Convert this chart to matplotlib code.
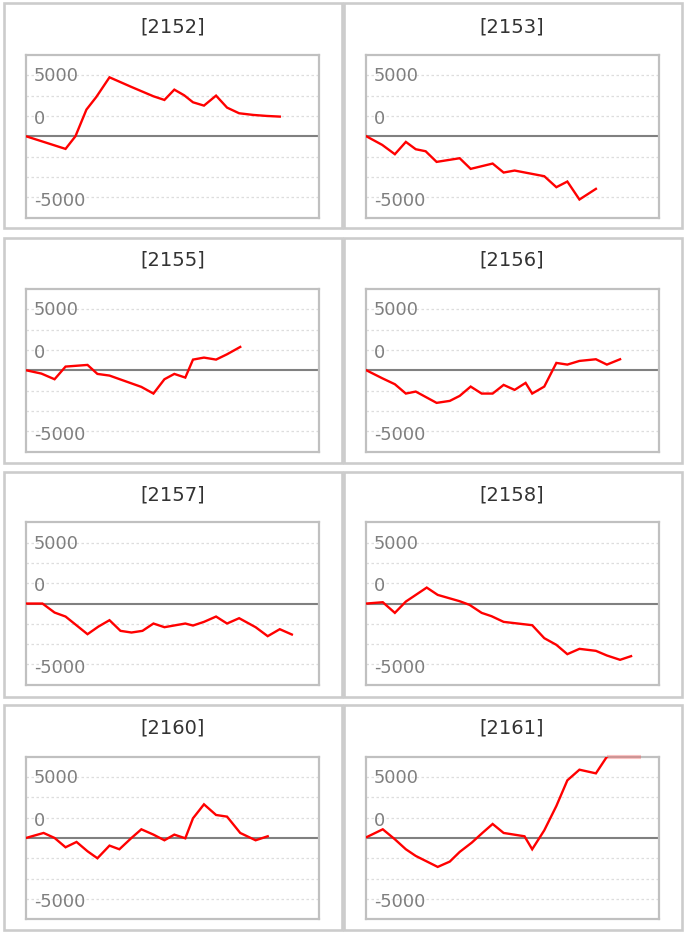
import numpy as np
import matplotlib
matplotlib.use("Agg")
import matplotlib.pyplot as plt
from matplotlib.patches import Rectangle

# ---------------- data ----------------
titles = ["[2152]", "[2153]", "[2155]", "[2156]", "[2157]", "[2158]", "[2160]", "[2161]"]

x_2152 = [0, 3.6, 4.5, 5.5, 6.4, 7.6, 9.6, 11.6, 12.6, 13.5, 14.4, 15.2, 16.2, 17.3, 18.3, 19.4, 20.7, 21.9, 23.1]
y_2152 = [0, -1038, 0, 2186, 3224, 4836, 4044, 3279, 2978, 3825, 3360, 2787, 2514, 3333, 2350, 1885, 1748, 1667, 1612]

x_2153 = [0, 1.45, 2.6, 3.6, 4.5, 5.4, 6.4, 8.5, 9.5, 11.5, 12.5, 13.5, 16.2, 17.3, 18.3, 19.4, 20.9]
y_2153 = [0, -710, -1475, -464, -1065, -1230, -2104, -1803, -2677, -2240, -2978, -2814, -3279, -4180, -3716, -5191, -4317]

x_2155 = [0, 1.4, 2.6, 3.6, 5.6, 6.5, 7.6, 10.5, 11.6, 12.6, 13.5, 14.5, 15.2, 16.2, 17.3, 18.3, 19.5]
y_2155 = [0, -273, -738, 301, 437, -301, -437, -1366, -1913, -738, -301, -601, 874, 1038, 874, 1311, 1912]

x_2156 = [0, 1.45, 2.6, 3.6, 4.5, 6.4, 7.6, 8.5, 9.5, 10.5, 11.5, 12.5, 13.5, 14.5, 15.1, 16.2, 17.3, 18.3, 19.4, 20.9, 21.9, 23.1]
y_2156 = [0, -656, -1147, -1913, -1749, -2677, -2514, -2104, -1339, -1913, -1913, -1202, -1612, -1038, -1913, -1339, 601, 464, 765, 902, 464, 902]

x_2157 = [0, 1.5, 2.6, 3.6, 5.6, 6.6, 7.6, 8.6, 9.6, 10.6, 11.6, 12.6, 14.5, 15.2, 16.2, 17.3, 18.3, 19.4, 20.9, 22.0, 23.1, 24.2]
y_2157 = [0, 0, -738, -1066, -2514, -1885, -1366, -2240, -2377, -2240, -1639, -1940, -1639, -1803, -1503, -1066, -1639, -1202, -1940, -2677, -2104, -2541]

x_2158 = [0, 1.5, 2.6, 3.6, 5.5, 6.5, 8.5, 9.4, 10.5, 11.4, 12.5, 15.1, 16.2, 17.3, 18.3, 19.4, 20.9, 21.9, 23.1, 24.1]
y_2158 = [0, 109, -765, 164, 1311, 710, 191, -109, -765, -1038, -1503, -1776, -2841, -3388, -4153, -3716, -3880, -4262, -4617, -4317]

x_2160 = [0, 1.6, 2.6, 3.6, 4.6, 5.6, 6.5, 7.6, 8.5, 9.6, 10.5, 11.6, 12.6, 13.5, 14.5, 15.2, 16.2, 17.3, 18.3, 19.5, 20.9, 22.0]
y_2160 = [0, 410, 0, -765, -328, -1093, -1667, -628, -929, 0, 710, 273, -191, 273, -27, 1612, 2759, 1885, 1749, 410, -191, 137]

x_2161 = [0, 1.5, 2.6, 3.6, 4.5, 6.5, 7.6, 8.5, 9.6, 10.6, 11.5, 12.5, 14.4, 15.1, 16.2, 17.3, 18.3, 19.4, 20.9, 21.9, 23.1, 24.2, 25.0]
y_2161 = [55, 710, -109, -929, -1475, -2377, -1940, -1147, -383, 437, 1147, 410, 137, -929, 628, 2623, 4727, 5601, 5300, 6667, 7300, 7600, 7400]

series_x = [x_2152, x_2153, x_2155, x_2156, x_2157, x_2158, x_2160, x_2161]
series_y = [y_2152, y_2153, y_2155, y_2156, y_2157, y_2158, y_2160, y_2161]

tick_values = [5000, 0, -5000]
tick_labels = ["5000", "0", "-5000"]

# ---------------- layout ----------------
W, H, DPI = 685, 937, 100
fig = plt.figure(figsize=(W / DPI, H / DPI), dpi=DPI)
fig.patch.set_facecolor("white")

def rect(left, top, width, height):
    return [left / W, 1 - (top + height) / H, width / W, height / H]

bg = fig.add_axes([0, 0, 1, 1])
bg.set_xlim(0, W)
bg.set_ylim(H, 0)
bg.axis("off")

col_box = [(4, 342), (344.5, 682)]
row_box = [(4, 229), (238.5, 464), (472.5, 697.7), (706, 931)]
for (x0, x1) in col_box:
    for (y0, y1) in row_box:
        bg.add_patch(Rectangle((x0, y0), x1 - x0, y1 - y0, fill=False,
                               edgecolor="#cccccc", linewidth=1.9))

title_y = [27, 260, 495, 728]
title_x = [173, 512]
plot_top = [56, 290, 523.3, 757.7]
plot_left = [26, 366.3]
plot_w, plot_h = 293, 162.5

unit = 10000 / 6.0
ymax = 4 * unit
xmax = 26.67

for i in range(8):
    r, c = divmod(i, 2)
    bg.text(title_x[c], title_y[r], titles[i], ha="center", va="center",
            fontsize=14, color="#333333", family="DejaVu Sans")

    ax = fig.add_axes(rect(plot_left[c], plot_top[r], plot_w, plot_h))
    ax.set_xlim(0, xmax)
    ax.set_ylim(-ymax, ymax)
    ax.set_xticks([])
    ax.set_yticks([])
    for s in ax.spines.values():
        s.set_color("#c0c0c0")
        s.set_linewidth(1.6)
    for k in (-3, -2, -1, 1, 2, 3):
        ax.axhline(k * unit, color="#dddddd", lw=0.9, ls=(0, (2, 2)), zorder=1)
    ax.axhline(0, color="#808080", lw=1.5, zorder=2)

    for v, lab in zip(tick_values, tick_labels):
        ypos = {5000: 5000, 0: unit - 180, -5000: -5000 - 200}[v]
        ax.text(0.7, ypos, lab, ha="left", va="center", fontsize=12.8,
                color="#7f7f7f", zorder=3)

    xs = np.array(series_x[i], dtype=float)
    ys = np.array(series_y[i], dtype=float)
    if np.any(ys >= ymax):
        top = np.where(ys >= ymax, ymax, np.nan)
        ax.plot(xs, top, color="#ff0000", alpha=0.22, lw=3, clip_on=False,
                zorder=6, solid_capstyle="butt")
    ax.plot(xs, ys, color="#ff0000", lw=1.7, zorder=4, solid_joinstyle="miter")

fig.savefig("out.png", dpi=DPI, facecolor="white")
